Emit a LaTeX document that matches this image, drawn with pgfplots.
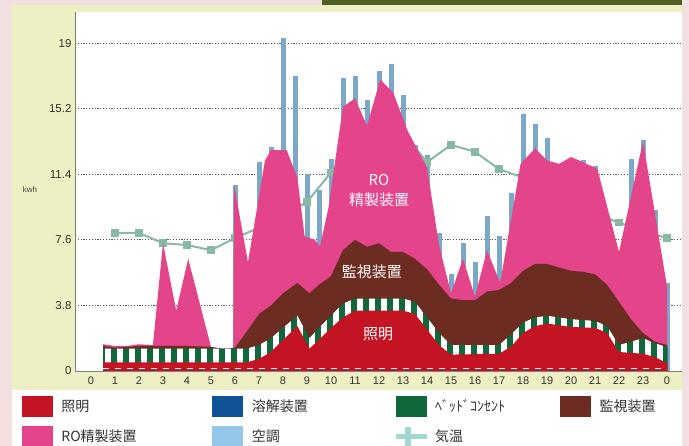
\documentclass[border=0pt]{standalone}
\usepackage{fontspec}
\setmainfont{Liberation Sans}
\newfontfamily\jp{Noto Sans CJK JP}
\usepackage{pgfplots}
\pgfplotsset{compat=1.18}
\usetikzlibrary{patterns.meta}

\definecolor{cRed}{RGB}{196,20,35}
\definecolor{cBlue}{RGB}{16,82,150}
\definecolor{cGreen}{RGB}{14,104,58}
\definecolor{cBrown}{RGB}{108,44,34}
\definecolor{cPink}{RGB}{228,68,138}
\definecolor{cAC}{RGB}{148,198,232}
\definecolor{cBar}{RGB}{122,168,198}
\definecolor{cTempL}{RGB}{163,216,208}
\definecolor{cTemp}{RGB}{135,185,165}
\definecolor{cBg}{RGB}{242,224,225}
\definecolor{cPanel}{RGB}{237,240,195}
\definecolor{cHead}{RGB}{80,95,35}

\pgfplotsset{myframe/.style={
  at={(75pt,75pt)}, anchor=south west, scale only axis,
  width=607pt, height=359pt,
  xmin=-0.667, xmax=24.625, ymin=0, ymax=20.8}}

\begin{document}
\begin{tikzpicture}
\useasboundingbox (0pt,0pt) rectangle (689pt,446pt);
\fill[cBg] (0pt,0pt) rectangle (689pt,446pt);
\fill[cPanel] (12pt,56pt) rectangle (682pt,441pt);
\fill[white] (12pt,0pt) rectangle (682pt,56pt);
\fill[cHead] (322pt,441pt) rectangle (682pt,446pt);
\node[font=\fontsize{8}{9}\selectfont, text=black!75] at (30pt,256pt) {kwh};
% ---------- back axis: grid, air conditioning, temperature ----------
\begin{axis}[
  myframe,
  axis background/.style={fill=white},
  axis lines*=left,
  axis line style={draw=black!50, line width=0.8pt},
  xtick={0,1,2,3,4,5,6,7,8,9,10,11,12,13,14,15,16,17,18,19,20,21,22,23,24},
  xticklabels={0,1,2,3,4,5,6,7,8,9,10,11,12,13,14,15,16,17,18,19,20,21,22,23,0},
  ytick={0,3.8,7.6,11.4,15.2,19},
  yticklabels={0,3.8,7.6,11.4,15.2,19},
  ymajorgrids,
  grid style={draw=black!65, line width=0.9pt, dash pattern=on 1.2pt off 1.6pt},
  major tick length=0pt,
  /pgf/number format/assume math mode=true,
  xticklabel style={font=\fontsize{11}{12}\selectfont, text=black!80, yshift=-2pt},
  yticklabel style={font=\fontsize{11.5}{12}\selectfont, text=black!80},
]
% air conditioning bars
\addplot[ycomb, draw=cBar, line width=5pt, forget plot] coordinates {
(6.0,10.8) (6.5,5.0) (7.0,12.1) (7.5,13.0) (8.0,19.3) (8.5,17.1) (9.0,11.4) (9.5,10.5)
(10.0,12.3) (10.5,17.0) (11.0,17.1) (11.5,15.7) (12.0,17.4) (12.5,17.8) (13.0,16.0)
(13.5,13.1) (14.0,12.5) (14.5,8.0) (15.0,5.6) (15.5,7.4) (16.0,6.3) (16.5,9.0)
(17.0,7.8) (17.5,10.3) (18.0,14.9) (18.5,14.3) (19.0,13.5) (19.5,11.0) (20.0,12.0)
(20.5,12.2) (21.0,11.9) (21.5,8.0) (22.0,6.0) (22.5,12.3) (23.0,13.4) (23.5,9.3) (24.0,5.1)
};
% temperature
\addplot[color=cTemp, line width=2pt, mark=square*, mark size=2.8pt, forget plot] coordinates {
(1,8.0) (2,8.0) (3,7.4) (4,7.3) (5,7.0) (6,7.7) (7,8.3) (8,9.0) (9,9.8) (10,11.5)
(11,12.4) (12,13.2) (13,13.8) (14,12.1) (15,13.1) (16,12.7) (17,11.7) (18,11.2)
(19,10.5) (20,9.8) (21,9.1) (22,8.6) (23,8.1) (24,7.7)
};
\end{axis}
% ---------- front axis: stacked consumption areas, labels, legend ----------
\begin{axis}[
  myframe,
  axis lines=none,
  legend columns=4,
  legend style={at={(axis description cs:-0.0873,-0.0696)}, anchor=north west,
    draw=none, fill=none, inner sep=0pt, outer sep=0pt, row sep=10pt,
    font=\jp\fontsize{14}{16}\selectfont, text=black!80,
    /tikz/every odd column/.append style={column sep=7pt}},
]
% RO (cumulative top)
\addplot[fill=cPink, draw=none, forget plot] coordinates {
(0.5,1.55) (1,1.45) (1.5,1.45) (2,1.55) (2.58,1.5) (3.0,7.4) (3.55,3.5) (4.05,6.5)
(5.0,1.4) (5.5,1.3) (5.93,1.35) (5.96,10.8) (6.54,6.3) (7.25,12.2) (7.5,12.8) (8.15,12.8)
(8.6,11.2) (8.75,9.5) (8.9,7.8) (9.33,7.6) (9.54,7.2) (9.9,9.5) (10.3,13.4) (10.5,15.3)
(11.0,15.8) (11.5,14.2) (12.05,16.9) (12.6,16.1) (13.2,13.9) (14.0,11.8) (14.5,7.3)
(15.0,4.5) (15.5,6.5) (16.0,4.3) (16.5,7.0) (17.05,5.1) (17.9,12.0) (18.5,12.9)
(19.0,12.2) (19.5,12.0) (20.0,12.4) (20.5,12.1) (21.1,11.7) (22.0,6.9) (23.0,13.3)
(24.0,4.9) (24.02,1.4)
} \closedcycle;
% monitoring (cumulative top)
\addplot[fill=cBrown, draw=none, forget plot] coordinates {
(0.5,1.45) (1,1.35) (2,1.45) (3,1.45) (4,1.45) (5,1.4) (5.5,1.25) (6,1.35) (6.5,2.3)
(7,3.3) (7.5,3.8) (8,4.5) (8.6,5.1) (9.1,4.5) (9.5,5.0) (10,5.5) (10.5,7.0) (11,7.6)
(11.5,7.2) (12,7.4) (12.5,6.9) (13,6.9) (13.5,6.5) (14,5.9) (14.5,5.0) (15,4.2)
(15.5,4.1) (16,4.1) (16.5,4.6) (17,4.7) (17.5,5.1) (18,5.8) (18.5,6.2) (19,6.2)
(19.5,6.0) (20,5.8) (20.5,5.75) (21,5.6) (21.5,5.0) (22,4.0) (22.5,3.0) (23,2.2)
(23.5,1.7) (24,1.5) (24.02,1.4)
} \closedcycle;
% bed outlet (cumulative top)
\addplot[fill=cGreen, draw=none, forget plot,
  postaction={pattern={Lines[angle=90,distance=12pt,line width=5.5pt]}, pattern color=white}] coordinates {
(0.5,1.3) (6.5,1.3) (7,1.5) (7.5,1.9) (8,2.5) (8.6,3.2) (9.1,1.9) (9.5,2.5) (10,3.2)
(10.5,3.9) (11,4.2) (13,4.2) (13.5,4.0) (14,3.1) (14.5,2.2) (15,1.5) (17,1.5)
(17.5,2.1) (18,2.8) (18.5,3.1) (19,3.2) (20,3.0) (21,2.9) (21.5,2.6) (22,1.5)
(23,1.9) (23.5,1.6) (24,1.4) (24.02,1.3)
} \closedcycle;
% lighting
\addplot[fill=cRed, draw=none, forget plot] coordinates {
(0.5,0.5) (6.5,0.5) (7,0.7) (7.5,1.1) (8,1.8) (8.6,2.6) (9.1,1.3) (9.5,1.8) (10,2.5)
(10.5,3.1) (11,3.5) (13,3.5) (13.5,3.3) (14,2.4) (14.5,1.5) (15,0.95) (17,1.0)
(17.5,1.4) (18,2.2) (18.5,2.6) (19,2.75) (20,2.55) (21,2.5) (21.5,2.2) (22,1.1)
(23,1.0) (23.5,0.8) (24,0.45) (24.02,0.4)
} \closedcycle;
% dissolver (tiny)
\addplot[white, line width=1.2pt, dash pattern=on 6pt off 6pt, forget plot] coordinates {
(0.5,0.15) (24,0.15)
};
\node[text=white, font=\jp\fontsize{15}{16}\selectfont] at (axis cs:12.0,11.07) {RO};
\node[text=white, font=\jp\fontsize{15}{16}\selectfont] at (axis cs:12.0,9.9) {精製装置};
\node[text=white, font=\jp\fontsize{15}{16}\selectfont] at (axis cs:11.7,5.74) {監視装置};
\node[text=white, font=\jp\fontsize{15}{16}\selectfont] at (axis cs:11.96,2.14) {照明};

\addlegendimage{legend image code/.code={\fill[cRed] (0pt,-10pt) rectangle (30pt,10pt);}}
\addlegendentry{\makebox[149pt][l]{照明}}
\addlegendimage{legend image code/.code={\fill[cBlue] (0pt,-10pt) rectangle (30pt,10pt);}}
\addlegendentry{\makebox[142pt][l]{溶解装置}}
\addlegendimage{legend image code/.code={\fill[cGreen] (0pt,-10pt) rectangle (30pt,10pt);}}
\addlegendentry{\makebox[123pt][l]{ﾍﾞｯﾄﾞｺﾝｾﾝﾄ}}
\addlegendimage{legend image code/.code={\fill[cBrown] (0pt,-10pt) rectangle (30pt,10pt);}}
\addlegendentry{\makebox[60pt][l]{監視装置}}
\addlegendimage{legend image code/.code={\fill[cPink] (0pt,-10pt) rectangle (30pt,10pt);}}
\addlegendentry{\makebox[149pt][l]{RO精製装置}}
\addlegendimage{legend image code/.code={\fill[cAC] (0pt,-10pt) rectangle (30pt,10pt);}}
\addlegendentry{\makebox[142pt][l]{空調}}
\addlegendimage{legend image code/.code={\fill[cTempL] (0pt,-2pt) rectangle (30pt,2.5pt); \fill[cTempL] (9pt,-9pt) rectangle (14pt,9pt);}}
\addlegendentry{\makebox[123pt][l]{気温}}
\end{axis}
\end{tikzpicture}
\end{document}
